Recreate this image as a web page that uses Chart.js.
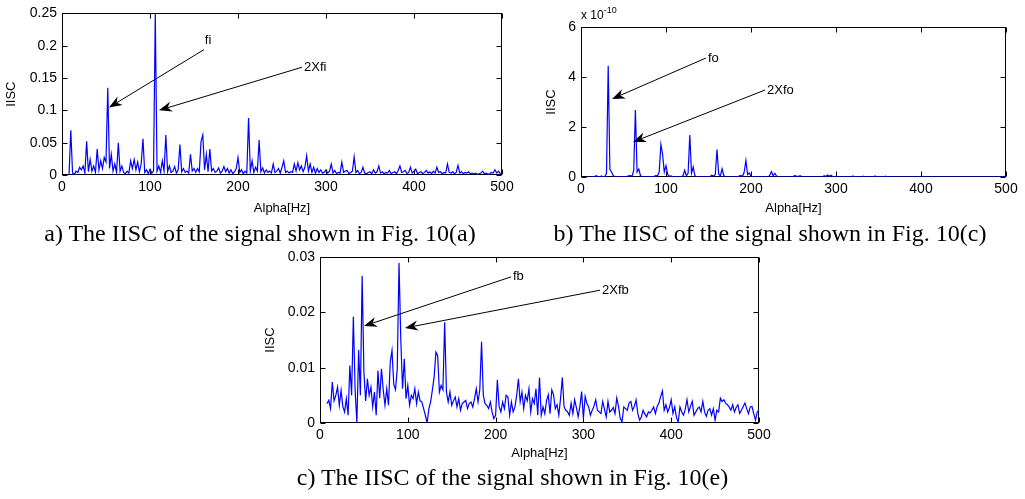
<!DOCTYPE html>
<html>
<head>
<meta charset="utf-8">
<script src="https://cdn.jsdelivr.net/npm/chart.js@4.4.1/dist/chart.umd.min.js"></script>
<style>
  html, body { margin: 0; padding: 0; background: #fff; }
  body { width: 1025px; height: 499px; position: relative; overflow: hidden;
         font-family: "Liberation Sans", Arial, sans-serif; }
  .pane { position: absolute; }
  .pane canvas { display: block; }
  .cap { position: absolute; font-family: "Liberation Serif", "Times New Roman", serif;
         font-size: 24px; line-height: 26px; color: #000; text-align: center; white-space: nowrap; }
  .exp { position: absolute; font-size: 12px; line-height: 14px; color: #000; white-space: nowrap; }
  .exp sup { font-size: 9px; vertical-align: 6px; line-height: 0; }
</style>
</head>
<body>
<div class="pane" style="left:0;top:0"><canvas id="chA" width="520" height="220"></canvas></div>
<div class="pane" style="left:540px;top:0"><canvas id="chB" width="485" height="220"></canvas></div>
<div class="pane" style="left:259px;top:240px"><canvas id="chC" width="521" height="225"></canvas></div>

<div class="exp" style="left:581px;top:8px">x 10<sup>-10</sup></div>
<div class="cap" style="left:0;width:520px;top:220px">a) The IISC of the signal shown in Fig. 10(a)</div>
<div class="cap" style="left:515px;width:510px;top:220px">b) The IISC of the signal shown in Fig. 10(c)</div>
<div class="cap" style="left:255px;width:515px;top:464px">c) The IISC of the signal shown in Fig. 10(e)</div>

<script>
// Cyclic frequency grid: 8 Hz to 500 Hz in 2 Hz steps (247 samples)
const alphaStart = 8;
const alphaStep = 2;

// (a) IISC, inner-race fault signal
const iiscA = [
  0.000,0.069,0.003,0.001,0.006,0.004,0.012,0.008,0.014,0.003, //   8
  0.052,0.005,0.024,0.006,0.014,0.004,0.040,0.008,0.022,0.010, //  28
  0.027,0.020,0.135,0.010,0.032,0.006,0.017,0.004,0.050,0.006, //  48
  0.014,0.004,0.002,0.006,0.003,0.022,0.010,0.024,0.008,0.020, //  68
  0.005,0.017,0.056,0.004,0.008,0.002,0.009,0.003,0.006,0.250, //  88
  0.006,0.014,0.004,0.022,0.006,0.062,0.005,0.014,0.004,0.006, // 108
  0.013,0.003,0.008,0.047,0.005,0.010,0.004,0.006,0.003,0.032, // 128
  0.006,0.010,0.004,0.010,0.005,0.052,0.062,0.008,0.032,0.005, // 148
  0.040,0.006,0.010,0.004,0.006,0.011,0.003,0.006,0.013,0.005, // 168
  0.010,0.003,0.008,0.002,0.005,0.010,0.027,0.004,0.008,0.002, // 188
  0.006,0.003,0.088,0.006,0.022,0.004,0.012,0.006,0.054,0.005, // 208
  0.011,0.003,0.008,0.004,0.006,0.003,0.017,0.004,0.006,0.010, // 228
  0.003,0.012,0.022,0.004,0.006,0.003,0.005,0.004,0.017,0.006, // 248
  0.019,0.008,0.014,0.005,0.012,0.030,0.006,0.017,0.004,0.012, // 268
  0.003,0.010,0.004,0.008,0.003,0.004,0.008,0.003,0.006,0.017, // 288
  0.003,0.007,0.002,0.004,0.003,0.020,0.004,0.006,0.007,0.002, // 308
  0.004,0.006,0.028,0.004,0.007,0.002,0.004,0.012,0.003,0.002, // 328
  0.004,0.005,0.002,0.008,0.003,0.005,0.014,0.003,0.005,0.002, // 348
  0.004,0.003,0.007,0.002,0.004,0.005,0.002,0.007,0.014,0.004, // 368
  0.005,0.007,0.002,0.004,0.012,0.003,0.006,0.009,0.002,0.004, // 388
  0.005,0.002,0.004,0.007,0.003,0.005,0.002,0.006,0.003,0.012, // 408
  0.004,0.005,0.002,0.004,0.003,0.017,0.004,0.003,0.005,0.002, // 428
  0.004,0.015,0.003,0.005,0.002,0.004,0.003,0.005,0.002,0.003, // 448
  0.002,0.003,0.001,0.002,0.003,0.006,0.002,0.003,0.001,0.002, // 468
  0.004,0.003,0.008,0.003,0.006,0.002,0.001                    // 488
];

// (b) IISC, outer-race fault signal, in units of 1e-10
const iiscB = [
  0,0,0,0,0.02,0.05,0.01,0,0.04,0.01,          //   8
  0.02,0.15,4.45,0.3,0.2,0.05,0.02,0,0,0,      //  28
  0,0.01,0,0.02,0.05,0.06,0.03,0.25,2.68,0.2,  //  48
  0.32,0.05,0.01,0,0,0,0,0.01,0.02,0.03,       //  68
  0.06,0.05,0.2,1.3,0.9,0.2,0.45,0.1,0.02,0.04,//  88
  0.01,0,0,0,0,0.01,0.05,0.27,0.05,0.15,       // 108
  1.68,0.15,0.4,0.05,0.01,0,0,0,0,0,           // 128
  0,0.01,0.02,0.07,0.03,0.1,1.1,0.1,0.05,0.33, // 148
  0.05,0.01,0,0,0,0,0,0,0.01,0.04,             // 168
  0.06,0.02,0.2,0.66,0.1,0.16,0.04,0.01,0,0,   // 188
  0,0,0,0,0,0,0,0.06,0.22,0.05,                // 208
  0.15,0.04,0.01,0,0,0,0,0,0,0,                // 228
  0,0.03,0.06,0.01,0.04,0.05,0.02,0,0,0,       // 248
  0,0,0,0,0,0,0,0,0,0.05,                      // 268
  0.02,0.08,0.03,0.07,0.02,0,0,0,0,0,          // 288
  0,0,0,0,0,0,0.04,0,0,0,                      // 308
  0,0,0.03,0,0,0,0,0,0,0.04,                   // 328
  0,0,0,0,0,0.03,0,0,0,0,                      // 348
  0,0,0,0,0,0,0,0,0,0,                         // 368
  0,0,0,0,0,0,0,0,0,0,                         // 388
  0,0,0,0,0,0,0,0,0,0,                         // 408
  0,0,0,0,0,0,0,0,0,0,                         // 428
  0,0,0,0,0,0,0,0,0,0,                         // 448
  0,0,0,0,0,0,0,0,0,0,                         // 468
  0,0,0,0,0,0,0                                // 488
];

// (c) IISC, ball fault signal
const iiscC = [
  0.0035,0.0041,0.0026,0.0074,0.0040,0.0050,0.0065,0.0032,0.0059,0.0030, //   8
  0.0020,0.0044,0.0014,0.0104,0.0050,0.0192,0.0060,0.0000,0.0132,0.0050, //  28
  0.0266,0.0092,0.0040,0.0080,0.0050,0.0065,0.0029,0.0056,0.0014,0.0095, //  48
  0.0045,0.0098,0.0060,0.0032,0.0062,0.0032,0.0110,0.0131,0.0070,0.0060, //  68
  0.0098,0.0289,0.0152,0.0062,0.0116,0.0044,0.0068,0.0032,0.0050,0.0044, //  88
  0.0062,0.0035,0.0056,0.0040,0.0038,0.0026,0.0014,0.0000,0.0026,0.0038, // 108
  0.0060,0.0083,0.0128,0.0122,0.0056,0.0068,0.0060,0.0182,0.0056,0.0038, // 128
  0.0056,0.0032,0.0040,0.0047,0.0029,0.0044,0.0023,0.0035,0.0038,0.0041, // 148
  0.0026,0.0035,0.0038,0.0029,0.0044,0.0062,0.0038,0.0060,0.0147,0.0050, // 168
  0.0035,0.0032,0.0026,0.0038,0.0020,0.0008,0.0014,0.0078,0.0030,0.0020, // 188
  0.0038,0.0026,0.0050,0.0047,0.0014,0.0038,0.0020,0.0029,0.0050,0.0080, // 208
  0.0038,0.0056,0.0026,0.0050,0.0040,0.0062,0.0020,0.0044,0.0035,0.0062, // 228
  0.0014,0.0082,0.0014,0.0029,0.0017,0.0040,0.0051,0.0017,0.0060,0.0051, // 248
  0.0026,0.0033,0.0014,0.0045,0.0082,0.0029,0.0023,0.0020,0.0014,0.0036, // 268
  0.0017,0.0042,0.0028,0.0011,0.0030,0.0057,0.0008,0.0048,0.0035,0.0029, // 288
  0.0014,0.0023,0.0030,0.0042,0.0023,0.0020,0.0017,0.0039,0.0025,0.0011, // 308
  0.0039,0.0020,0.0023,0.0028,0.0017,0.0045,0.0030,0.0008,0.0002,0.0029, // 328
  0.0026,0.0023,0.0036,0.0039,0.0023,0.0030,0.0042,0.0017,0.0005,0.0011, // 348
  0.0023,0.0016,0.0011,0.0020,0.0018,0.0023,0.0029,0.0017,0.0030,0.0036, // 368
  0.0048,0.0058,0.0023,0.0033,0.0020,0.0028,0.0042,0.0017,0.0029,0.0010, // 388
  0.0002,0.0029,0.0020,0.0014,0.0025,0.0042,0.0020,0.0030,0.0039,0.0014, // 408
  0.0020,0.0026,0.0029,0.0020,0.0039,0.0020,0.0012,0.0023,0.0026,0.0014, // 428
  0.0026,0.0005,0.0023,0.0020,0.0045,0.0039,0.0042,0.0036,0.0033,0.0029, // 448
  0.0023,0.0033,0.0020,0.0028,0.0033,0.0017,0.0023,0.0030,0.0036,0.0026, // 468
  0.0017,0.0029,0.0030,0.0017,0.0005,0.0020,0.0023                       // 488
];

// Tick values
const xTicks  = [0, 100, 200, 300, 400, 500];
const yTicksA = [0, 0.05, 0.1, 0.15, 0.2, 0.25];
const yTicksB = [0, 2, 4, 6];
const yTicksC = [0, 0.01, 0.02, 0.03];

// Arrow annotations (data coordinates): characteristic frequency and its 2nd harmonic
const marksA = [
  { text: 'fi',   tip: [53.4, 0.1045], tail: [161.4, 0.194], place: 'above' },
  { text: '2Xfi', tip: [110.2, 0.100], tail: [272.7, 0.1667], place: 'right' }
];
const marksB = [
  { text: 'fo',   tip: [36.5, 3.12], tail: [147, 4.76],  place: 'right' },
  { text: '2Xfo', tip: [61.2, 1.40], tail: [216.5, 3.48], place: 'right' }
];
const marksC = [
  { text: 'fb',   tip: [50.1, 0.01753], tail: [217.5, 0.0264], place: 'right' },
  { text: '2Xfb', tip: [96.8, 0.01717], tail: [318.9, 0.0240], place: 'right' }
];

const alpha = iiscA.map((_, i) => alphaStart + i * alphaStep);

const SANS = '"Liberation Sans", Arial, sans-serif';
Chart.defaults.font.family = SANS;
Chart.defaults.color = '#000';

// Axes box with inward tick marks on all four sides
const framePlugin = {
  id: 'frame',
  beforeDatasetsDraw(chart) {
    const { ctx, chartArea: a, scales: { x, y } } = chart;
    const L = Math.round(a.left) + 0.5, R = Math.round(a.right) - 0.5;
    const T = Math.round(a.top) + 0.5,  B = Math.round(a.bottom) - 0.5;
    const tk = 5;
    ctx.save();
    ctx.strokeStyle = '#000';
    ctx.lineWidth = 1;
    ctx.strokeRect(L, T, R - L, B - T);
    ctx.beginPath();
    x.ticks.forEach(t => {
      const px = Math.round(x.getPixelForValue(t.value)) + 0.5;
      ctx.moveTo(px, B); ctx.lineTo(px, B - tk);
      ctx.moveTo(px, T); ctx.lineTo(px, T + tk);
    });
    y.ticks.forEach(t => {
      const py = Math.round(y.getPixelForValue(t.value)) + 0.5;
      ctx.moveTo(L, py); ctx.lineTo(L + tk, py);
      ctx.moveTo(R, py); ctx.lineTo(R - tk, py);
    });
    ctx.stroke();
    ctx.restore();
  }
};

// Text arrows pointing at the harmonic peaks
const arrowPlugin = {
  id: 'arrows',
  afterDatasetsDraw(chart, args, opts) {
    const items = opts.items || [];
    const { ctx, scales: { x, y } } = chart;
    ctx.save();
    items.forEach(m => {
      const x1 = x.getPixelForValue(m.tip[0]),  y1 = y.getPixelForValue(m.tip[1]);
      const x0 = x.getPixelForValue(m.tail[0]), y0 = y.getPixelForValue(m.tail[1]);
      const ang = Math.atan2(y1 - y0, x1 - x0);
      const ux = Math.cos(ang), uy = Math.sin(ang);
      const len = 13, half = 5, notch = 9;
      ctx.strokeStyle = '#000';
      ctx.lineWidth = 1;
      ctx.beginPath();
      ctx.moveTo(x0, y0);
      ctx.lineTo(x1 - ux * notch, y1 - uy * notch);
      ctx.stroke();
      ctx.fillStyle = '#000';
      ctx.beginPath();
      ctx.moveTo(x1, y1);
      ctx.lineTo(x1 - ux * len - uy * half, y1 - uy * len + ux * half);
      ctx.lineTo(x1 - ux * notch, y1 - uy * notch);
      ctx.lineTo(x1 - ux * len + uy * half, y1 - uy * len - ux * half);
      ctx.closePath();
      ctx.fill();
      ctx.font = '13px ' + SANS;
      ctx.textBaseline = 'middle';
      if (m.place === 'above') {
        ctx.textAlign = 'center';
        ctx.fillText(m.text, x0 + 4, y0 - 9);
      } else {
        ctx.textAlign = 'left';
        ctx.fillText(m.text, x0 + 2, y0);
      }
    });
    ctx.restore();
  }
};

function buildChart(id, values, yTicks, box, marks) {
  return new Chart(document.getElementById(id), {
    type: 'line',
    data: {
      datasets: [{
        data: values.map((v, i) => ({ x: alpha[i], y: v })),
        borderColor: '#0000ff',
        borderWidth: 1.2,
        pointRadius: 0,
        tension: 0,
        fill: false
      }]
    },
    options: {
      responsive: false,
      animation: false,
      devicePixelRatio: 1,
      layout: { padding: { top: box.top, right: box.right, left: 0, bottom: 0 } },
      plugins: {
        legend: { display: false },
        tooltip: { enabled: false },
        arrows: { items: marks }
      },
      scales: {
        x: {
          type: 'linear',
          min: 0, max: 500,
          grid: { display: false, drawTicks: false },
          border: { display: false },
          afterBuildTicks: s => { s.ticks = xTicks.map(v => ({ value: v })); },
          afterFit: s => { s.height = box.xh; },
          ticks: { color: '#000', font: { size: 14 }, padding: 4, maxRotation: 0, autoSkip: false,
                   callback: v => String(v) },
          title: { display: true, text: 'Alpha[Hz]', color: '#000', font: { size: 13 },
                   padding: { top: 0, bottom: 4 } }
        },
        y: {
          type: 'linear',
          min: yTicks[0], max: yTicks[yTicks.length - 1],
          grid: { display: false, drawTicks: false },
          border: { display: false },
          afterBuildTicks: s => { s.ticks = yTicks.map(v => ({ value: v })); },
          afterFit: s => { s.width = box.yw; },
          ticks: { color: '#000', font: { size: 14 }, padding: 5, autoSkip: false,
                   callback: v => String(v) },
          title: { display: true, text: 'IISC', color: '#000', font: { size: 13 },
                   padding: { top: 4, bottom: 4 } }
        }
      }
    },
    plugins: [framePlugin, arrowPlugin]
  });
}

buildChart('chA', iiscA, yTicksA, { top: 10, right: 18, xh: 45, yw: 62 }, marksA);
buildChart('chB', iiscB, yTicksB, { top: 27, right: 19, xh: 43, yw: 41 }, marksB);
buildChart('chC', iiscC, yTicksC, { top: 17, right: 21, xh: 42, yw: 61 }, marksC);
</script>
</body>
</html>
